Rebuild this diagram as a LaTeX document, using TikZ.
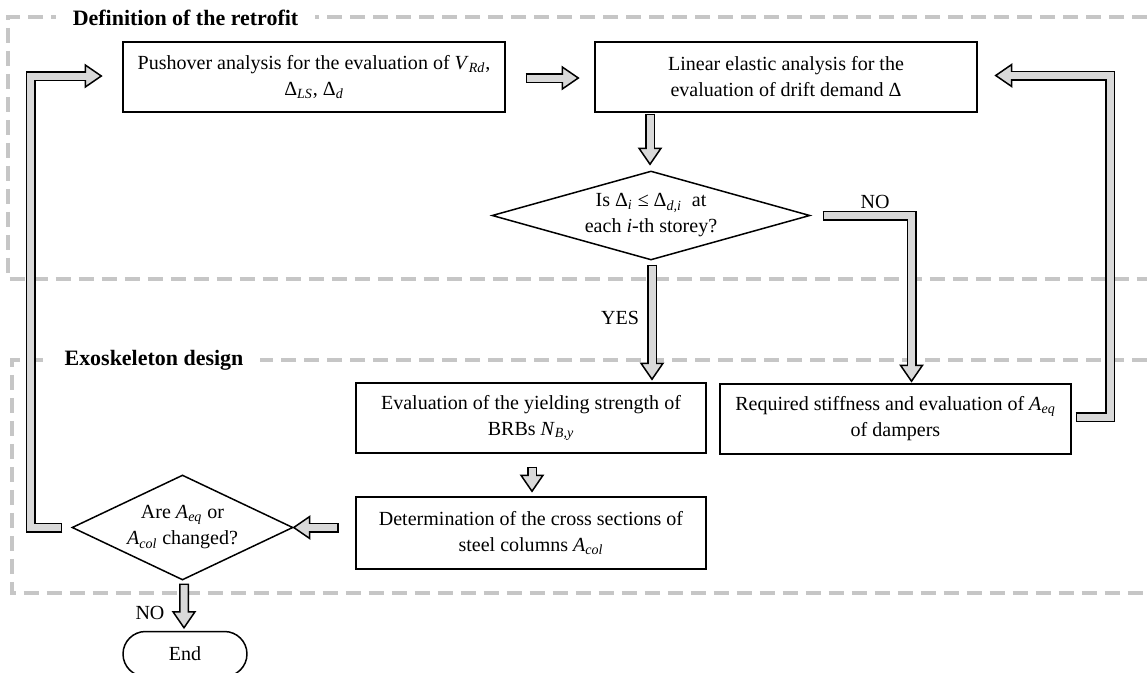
\documentclass[tikz,border=0pt]{standalone}
\usepackage{fontspec}
\setmainfont{Liberation Serif}
\usetikzlibrary{calc,shapes.geometric,shapes.misc}

\definecolor{framegray}{HTML}{C6C6C6}
\definecolor{arrowgray}{HTML}{D9D9D9}

% symbol with an italic subscript
\newcommand{\symb}[2]{#1\textsubscript{\textit{#2}}}

% block arrow: #1 path up to the head base, #2 tip, #3 direction of the tip
\newcommand{\flowarrow}[3]{%
  \draw[arrowrim] #1;
  \begin{scope}[shift={#2}, rotate=#3]
    \draw[arrowtip] (0,0) -- (-16,11) -- (-16,-11) -- cycle;
  \end{scope}
  \draw[arrowcore] #1;
}

\begin{document}
\begin{tikzpicture}[x=0.02cm, y=-0.02cm,
    every node/.style={font=\fontsize{11.4}{14.8}\selectfont},
    box/.style={draw, line width=0.03cm, align=center, inner sep=0pt},
    decision/.style={draw, diamond, line width=0.03cm, align=center, inner sep=0pt},
    terminal/.style={draw, rounded rectangle, line width=0.03cm, inner sep=0pt},
    frame/.style={draw=framegray, line width=0.09cm, dash pattern=on 0.3cm off 0.16cm},
    heading/.style={font=\fontsize{12.5}{15}\selectfont\bfseries, fill=white, inner xsep=0.34cm, inner ysep=0.05cm},
    arrowrim/.style={draw=black, line width=0.2cm, line join=miter, line cap=butt},
    arrowcore/.style={draw=arrowgray, line width=0.14cm, line join=miter, line cap=butt,
        shorten <=0.03cm, shorten >=-0.08cm},
    arrowtip/.style={draw=black, fill=arrowgray, line width=0.03cm, line join=miter}]
    \useasboundingbox (0,0) rectangle (1147,673);

    % the two dashed regions
    \draw[frame] (1147,17) -- (8,17) -- (8,279) -- (1147,279);
    \draw[frame] (1147,360) -- (12,360) -- (12,593) -- (1147,593);
    \node[heading] (retrofit) at (185.5,18) {Definition of the retrofit};
    \node[heading] (exo) at (154,360) {Exoskeleton design};

    % analysis boxes
    \node[box, minimum width=7.64cm, minimum height=1.4cm] (pushover) at (314,77)
        {Pushover analysis for the evaluation of \symb{\textit{V}}{Rd},\\ \symb{Δ}{LS}, \symb{Δ}{d}};
    \node[box, minimum width=7.64cm, minimum height=1.4cm] (linear) at (786,77)
        {Linear elastic analysis for the\\ evaluation of drift demand Δ};

    % drift check
    \node[decision, aspect=3.57, minimum width=6.36cm, minimum height=1.78cm] (check) at (651,215.5)
        {Is \symb{Δ}{i} ≤ \symb{Δ}{d,i}\enspace at\\ each \textit{i}-th storey?};

    % exoskeleton design
    \node[box, minimum width=7cm, minimum height=1.4cm] (yielding) at (531,418)
        {Evaluation of the yielding strength of\\ BRBs \symb{\textit{N}}{B,y}};
    \node[box, minimum width=7.02cm, minimum height=1.4cm] (stiffness) at (895.5,419)
        {Required stiffness and evaluation of \symb{\textit{A}}{eq}\\ of dampers};
    \node[box, minimum width=7cm, minimum height=1.44cm] (sections) at (531,533)
        {Determination of the cross sections of\\ steel columns \symb{\textit{A}}{col}};
    \node[decision, aspect=2.1, minimum width=4.42cm, minimum height=2.1cm] (changed) at (182.5,527.5)
        {Are \symb{\textit{A}}{eq} or\\ \symb{\textit{A}}{col} changed?};
    \node[terminal, minimum width=2.48cm, minimum height=0.9cm] (stop) at (185,654) {End};

    % labels of the answers
    \node (yeslabel) at (620,318) {YES};
    \node (nolabel) at (875,202) {NO};
    \node (noend) at (150,613) {NO};

    % block arrows
    \flowarrow{($(pushover.east)+(20,1)$) -- ($(linear.west)+(-32,1)$)}{($(linear.west)+(-16,1)$)}{0}
    \flowarrow{($(check.north |- linear.south)+(-1,1)$) -- ($(check.north)+(-1,-22)$)}{($(check.north)+(-1,-6)$)}{-90}
    \flowarrow{($(check.south)+(1,4)$) -- ($(yielding.north -| check.south)+(1,-19)$)}{($(yielding.north -| check.south)+(1,-3)$)}{-90}
    \flowarrow{($(check.east)+(12,0)$) -| ($(stiffness.north)+(16,-18)$)}{($(stiffness.north)+(16,-2)$)}{-90}
    \flowarrow{($(stiffness.east)+(4,-2)$) -| ($(linear.east)+(132.5,-1.5)$) -- ($(linear.east)+(34,-1.5)$)}{($(linear.east)+(18,-1.5)$)}{180}
    \flowarrow{($(yielding.south)+(1,13)$) -- ($(sections.north)+(1,-21)$)}{($(sections.north)+(1,-5)$)}{-90}
    \flowarrow{($(changed.east)+(45,0)$) -- ($(changed.east)+(16,0)$)}{(changed.east)}{180}
    \flowarrow{($(changed.west)+(-9,0)$) -| ($(pushover.west)+(-91.5,-1)$) -- ($(pushover.west)+(-37,-1)$)}{($(pushover.west)+(-21,-1)$)}{0}
    \flowarrow{($(changed.south)+(1.5,3)$) -- ($(stop.north)+(-1,-19)$)}{($(stop.north)+(-1,-3)$)}{-90}
\end{tikzpicture}
\end{document}
